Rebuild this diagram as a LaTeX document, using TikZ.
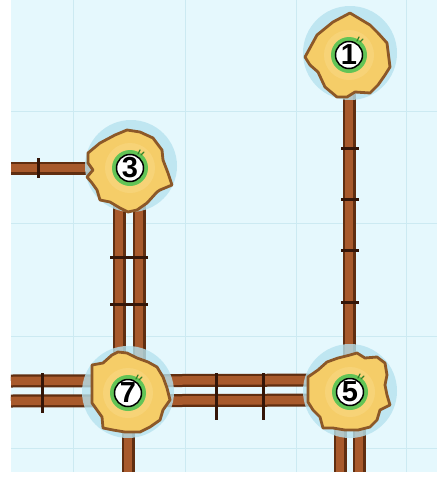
\documentclass[tikz,border=0pt]{standalone}
\usepackage{fontspec}
\newfontfamily\numfont{Liberation Sans}
\definecolor{bgc}{RGB}{229,248,253}
\definecolor{gridc}{RGB}{204,234,242}
\definecolor{haloc}{RGB}{182,226,238}
\definecolor{pipedark}{RGB}{96,46,16}
\definecolor{pipemain}{RGB}{168,90,44}
\definecolor{tickc}{RGB}{52,22,8}
\definecolor{blobfill}{RGB}{245,205,104}
\definecolor{blobglow}{RGB}{249,216,130}
\definecolor{blobline}{RGB}{140,88,40}
\definecolor{ringc}{RGB}{98,196,86}
\definecolor{sproutc}{RGB}{52,130,40}
\tikzset{
  pipeout/.style={line width=13pt,draw=pipedark},
  pipein/.style={line width=8.5pt,draw=pipemain},
  tickline/.style={line width=3pt,draw=tickc},
  halo/.style={fill=haloc,opacity=0.8},
  blob/.style={fill=blobfill,draw=blobline,line width=2.8pt,line join=round},
  numdisc/.style={circle,fill=white,draw=black,line width=1.5pt,minimum size=27pt,inner sep=0pt,
    font=\numfont\bfseries\fontsize{29}{29}\selectfont},
}
\begin{document}
\begin{tikzpicture}[x=1pt,y=-1pt]
\useasboundingbox (0,0) rectangle (437,477);
\fill[bgc] (11,0) rectangle (437,472);
\foreach \gx in {73,185,296,406} \draw[gridc,line width=1pt] (\gx,0) -- (\gx,472);
\foreach \gy in {111,223,336,448} \draw[gridc,line width=1pt] (11,\gy) -- (437,\gy);

% node anchors (centres)
\coordinate (c1) at (349,55);
\coordinate (c3) at (130,168);
\coordinate (c7) at (128,393);
\coordinate (c5) at (350,392);
\coordinate (e3) at (11,168);
\coordinate (e7) at (11,393);
\coordinate (b7) at (128,472);
\coordinate (b5) at (350,472);

% pipes
\foreach \s in {pipeout,pipein}{
  \draw[\s] (c1) -- (c1 |- c5);
  \draw[\s] (e3) -- (c3);
  \draw[\s] ([xshift=-11pt]c3) -- ([xshift=-11pt]c3 |- c7);
  \draw[\s] ([xshift=9pt]c3) -- ([xshift=9pt]c3 |- c7);
  \draw[\s] ([yshift=-8pt]e7) -- ([yshift=-8pt]c5);
  \draw[\s] ([yshift=12pt]e7) -- ([yshift=12pt]c5);
  \draw[\s] (c7) -- (b7);
  \draw[\s] ([xshift=-10pt]c5) -- ([xshift=-10pt]b5);
  \draw[\s] ([xshift=9pt]c5) -- ([xshift=9pt]b5);
}
% ticks
\foreach \ty in {148,199,250,302} \draw[tickline] (341,\ty) -- (359,\ty);
\draw[tickline] (38,158) -- (38,178);
\foreach \ty in {257,304} \draw[tickline] (110,\ty) -- (148,\ty);
\draw[tickline] (42,373) -- (42,413);
\foreach \tx in {216,263} \draw[tickline] (\tx,373) -- (\tx,420);

% halos
\fill[halo] (350,53) circle (47);
\fill[halo] (131,166) circle (46);
\fill[halo] (128,392) circle (46);
\fill[halo] (350,391) circle (47);

% blobs
\draw[blob,shift={(349,55)}] (1,-42) -- (21,-30) -- (29,-22) -- (38,-12) -- (41,12) -- (36,20) -- (29,30) -- (21,38) -- (6,37) -- (-2,42) -- (-12,42) -- (-24,32) -- (-31,17) -- (-39,10) -- (-44,2) -- (-32,-20) -- (-16,-33) -- cycle;
\draw[blob,shift={(130,168)}] (-42,-15) -- (-30,-25) -- (-15,-33) -- (-3,-38) -- (10,-36) -- (23,-30) -- (32,-18) -- (33,-8) -- (38,5) -- (42,17) -- (30,22) -- (27,24) -- (17,35) -- (7,42) -- (-2,44) -- (-10,40) -- (-20,34) -- (-30,32) -- (-33,22) -- (-38,15) -- (-43,9) -- (-37,2) -- (-42,-5) -- cycle;
\draw[blob,shift={(128,393)}] (-16,-38) -- (-10,-41) -- (-1,-40) -- (9,-35) -- (20,-31) -- (29,-26) -- (35,-16) -- (39,-5) -- (42,7) -- (35,17) -- (32,27) -- (22,34) -- (12,39) -- (-3,39) -- (-15,37) -- (-25,35) -- (-26,24) -- (-31,17) -- (-36,10) -- (-36,-3) -- (-36,-16) -- (-36,-28) -- (-25,-30) -- cycle;
\draw[blob,shift={(350,392)}] (0,-37) -- (7,-39) -- (15,-34) -- (27,-35) -- (35,-29) -- (37,-17) -- (35,-7) -- (37,3) -- (40,13) -- (30,18) -- (27,28) -- (20,35) -- (8,38) -- (-5,38) -- (-17,36) -- (-27,36) -- (-30,25) -- (-37,18) -- (-42,10) -- (-42,-2) -- (-42,-15) -- (-32,-22) -- (-23,-30) -- (-12,-34) -- cycle;

% glow, ring, sprout
\foreach \c in {c1,c3,c7,c5}{
  \fill[blobglow,opacity=0.6] (\c) circle (25);
  \fill[ringc] (\c) circle (18);
  \draw[sproutc,line width=1.2pt,line cap=round] ([shift={(8,-14)}]\c) -- ([shift={(10,-18)}]\c);
  \draw[sproutc,line width=1.2pt,line cap=round] ([shift={(11,-13)}]\c) -- ([shift={(14,-16)}]\c);
}
\node[numdisc] (n1) at (c1) {1};
\node[numdisc] (n3) at (c3) {3};
\node[numdisc] (n7) at (c7) {7};
\node[numdisc] (n5) at (c5) {5};
\end{tikzpicture}
\end{document}
